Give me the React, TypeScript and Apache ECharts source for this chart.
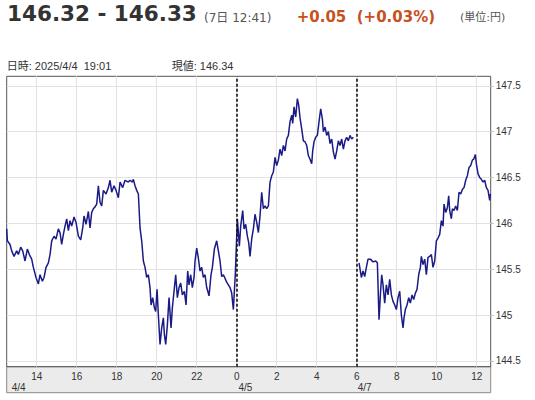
import { useEffect, useRef } from 'react';
import * as echarts from 'echarts';

// USD/JPY intraday, 4/4 12:30 -> 4/7 12:41 (weekend gap removed from the axis)
const times0404 = [
  '12:30', '12:32', '12:40', '12:45', '12:52', '13:00', '13:05', '13:12', '13:18', '13:25',
  '13:32', '13:38', '13:45', '13:50', '13:58', '14:05', '14:10', '14:17', '14:22', '14:28',
  '14:35', '14:40', '14:45', '14:52', '14:58', '15:05', '15:10', '15:15', '15:20', '15:25',
  '15:30', '15:35', '15:40', '15:45', '15:52', '15:58', '16:05', '16:12', '16:18', '16:22',
  '16:28', '16:35', '16:40', '16:45', '16:50', '16:55', '17:00', '17:05', '17:10', '17:15',
  '17:20', '17:28', '17:35', '17:40', '17:45', '17:52', '17:58', '18:05', '18:10', '18:18',
  '18:25', '18:35', '18:40', '18:47', '18:50', '18:55', '19:00', '19:05', '19:10', '19:15',
  '19:20', '19:25', '19:30', '19:35', '19:40', '19:43', '19:48', '19:53', '19:57', '20:01',
  '20:05', '20:10', '20:15', '20:20', '20:23', '20:27', '20:32', '20:37', '20:43', '20:47',
  '20:52', '20:57', '21:02', '21:07', '21:12', '21:17', '21:23', '21:28', '21:33', '21:37',
  '21:42', '21:47', '21:52', '21:55', '22:00', '22:05', '22:10', '22:15', '22:20', '22:25',
  '22:30', '22:37', '22:43', '22:47', '22:53', '23:00', '23:05', '23:10', '23:15', '23:20',
  '23:25', '23:30', '23:35', '23:40', '23:45', '23:50', '23:56',
];
const prices0404 = [
  145.94, 145.81, 145.77, 145.70, 145.64, 145.70, 145.66, 145.74, 145.70, 145.59,
  145.72, 145.66, 145.61, 145.52, 145.41, 145.34, 145.44, 145.37, 145.41, 145.52,
  145.57, 145.66, 145.81, 145.86, 145.83, 145.94, 145.90, 145.77, 145.88, 145.97,
  146.05, 145.92, 146.03, 145.97, 146.07, 146.01, 145.86, 145.82, 145.95, 146.08,
  145.99, 146.13, 145.95, 146.12, 146.16, 146.18, 146.21, 146.41, 146.23, 146.19,
  146.36, 146.32, 146.39, 146.47, 146.34, 146.41, 146.36, 146.28, 146.45, 146.39,
  146.47, 146.45, 146.47, 146.45, 146.48, 146.41, 146.36, 146.32, 145.95, 145.81,
  145.59, 145.52, 145.41, 145.44, 145.30, 145.11, 145.19, 145.08, 145.04, 145.28,
  145.00, 144.68, 144.86, 144.97, 144.79, 144.68, 144.89, 145.19, 144.86, 145.08,
  145.26, 145.44, 145.19, 145.30, 145.35, 145.22, 145.26, 145.11, 145.48, 145.33,
  145.44, 145.30, 145.41, 145.59, 145.73, 145.62, 145.48, 145.52, 145.41, 145.44,
  145.30, 145.21, 145.44, 145.52, 145.72, 145.81, 145.70, 145.59, 145.42, 145.44,
  145.40, 145.36, 145.33, 145.30, 145.24, 145.06, 145.46,
];

const times0405 = [
  '0:02', '0:08', '0:12', '0:18', '0:22', '0:27', '0:32', '0:36', '0:40', '0:45',
  '0:50', '0:55', '1:00', '1:05', '1:10', '1:15', '1:20', '1:25', '1:30', '1:35',
  '1:40', '1:45', '1:50', '1:55', '2:00', '2:05', '2:10', '2:15', '2:20', '2:25',
  '2:30', '2:35', '2:40', '2:45', '2:48', '2:52', '2:57', '3:02', '3:06', '3:10',
  '3:15', '3:20', '3:25', '3:30', '3:35', '3:40', '3:45', '3:48', '3:52', '3:57',
  '4:02', '4:07', '4:12', '4:17', '4:20', '4:25', '4:30', '4:35', '4:40', '4:45',
  '4:50', '4:55', '5:00', '5:05', '5:10', '5:15', '5:20', '5:25', '5:30', '5:35',
  '5:40', '5:45', '5:50',
];
const prices0405 = [
  146.05, 145.75, 145.97, 146.14, 145.94, 145.99, 145.86, 145.79, 145.64, 145.83,
  145.94, 146.10, 146.01, 145.90, 146.08, 146.34, 146.16, 146.19, 146.16, 146.19,
  146.45, 146.52, 146.56, 146.72, 146.63, 146.69, 146.81, 146.74, 146.85, 146.79,
  146.92, 146.96, 147.11, 147.18, 147.09, 147.27, 147.16, 147.36, 147.29, 147.15,
  147.03, 146.90, 146.89, 146.85, 146.74, 146.70, 146.65, 146.79, 146.89, 146.94,
  146.96, 147.11, 147.25, 147.14, 147.00, 147.05, 146.96, 147.00, 146.87, 146.92,
  146.78, 146.70, 146.79, 146.90, 146.85, 146.92, 146.81, 146.90, 146.94, 146.90,
  146.96, 146.92, 146.94,
];

const times0407 = [
  '6:07', '6:14', '6:19', '6:24', '6:29', '6:34', '6:41', '6:49', '6:57', '7:02',
  '7:07', '7:11', '7:15', '7:19', '7:24', '7:29', '7:34', '7:39', '7:44', '7:49',
  '7:54', '7:59', '8:04', '8:09', '8:14', '8:19', '8:22', '8:26', '8:31', '8:36',
  '8:41', '8:46', '8:51', '8:56', '9:01', '9:06', '9:11', '9:14', '9:19', '9:24',
  '9:29', '9:34', '9:39', '9:44', '9:49', '9:54', '9:59', '10:04', '10:09', '10:14',
  '10:19', '10:22', '10:27', '10:32', '10:36', '10:39', '10:44', '10:47', '10:52', '10:57',
  '11:02', '11:07', '11:12', '11:17', '11:22', '11:27', '11:32', '11:37', '11:42', '11:47',
  '11:51', '11:56', '11:59', '12:04', '12:09', '12:14', '12:19', '12:24', '12:29', '12:34',
  '12:39', '12:41',
];
const prices0407 = [
  145.57, 145.41, 145.48, 145.42, 145.52, 145.61, 145.61, 145.58, 145.59, 145.57,
  144.95, 145.22, 145.44, 145.33, 145.13, 145.33, 145.22, 145.39, 145.22, 145.15,
  145.11, 145.06, 145.19, 145.26, 145.00, 144.86, 144.97, 145.06, 145.11, 145.19,
  145.13, 145.22, 145.17, 145.24, 145.28, 145.44, 145.52, 145.64, 145.55, 145.61,
  145.44, 145.63, 145.64, 145.66, 145.52, 145.59, 145.81, 145.84, 145.88, 146.03,
  145.97, 146.21, 146.12, 146.17, 146.30, 146.14, 146.05, 146.16, 146.14, 146.19,
  146.14, 146.34, 146.32, 146.37, 146.39, 146.47, 146.52, 146.61, 146.63, 146.69,
  146.70, 146.75, 146.65, 146.54, 146.50, 146.48, 146.45, 146.47, 146.39, 146.36,
  146.25, 146.32,
];

const hourTicks = [14, 16, 18, 20, 22, 24, 26, 28, 30, 32, 34, 36];
const dateTicks = [12.75, 24.09, 30.05];
const priceTicks = [144.5, 145, 145.5, 146, 146.5, 147, 147.5];
const sessionBreaks = [24, 30];

const FONT = "'Liberation Sans', 'Noto Sans CJK JP', sans-serif";
const HEAD = "'DejaVu Sans', 'Noto Sans CJK JP', sans-serif";

// hours on the compressed axis: 4/4 -> h, 4/5 and 4/7 -> 24 + h (4/5 6:00 == 4/7 6:00)
function toHour(day: string, t: string) {
  const [h, m] = t.split(':').map(Number);
  const v = h + m / 60;
  return day === '4/4' ? v : 24 + v;
}

function seg(day: string, times: string[], prices: number[]) {
  return times.map((t, i) => [toHour(day, t), prices[i]]);
}

export default function App() {
  const ref = useRef<HTMLDivElement>(null);

  useEffect(() => {
    if (!ref.current) return;
    const chart = echarts.init(ref.current, null, { renderer: 'svg' });

    const data: any[] = [
      ...seg('4/4', times0404, prices0404),
      ...seg('4/5', times0405, prices0405),
      [30, '-'],
      ...seg('4/7', times0407, prices0407),
    ];

    chart.setOption({
      animation: false,
      backgroundColor: '#fff',
      grid: {
        left: 6.7, right: 44.3, top: 76.3, bottom: 33.3,
        show: true, borderColor: '#555', borderWidth: 1,
        containLabel: false, outerBoundsMode: 'none',
      },
      graphic: [
        {
          type: 'rect', z: -10, silent: true,
          shape: { x: 6.7, y: 366.7, width: 484, height: 26 },
          style: { fill: '#ebebeb', stroke: '#8a8a8a', lineWidth: 1 },
        },
        {
          type: 'text', x: 7, y: 13.6,
          style: { text: '146.32 - 146.33', fill: '#333', fontFamily: HEAD, fontWeight: 'bold', fontSize: 21.5, verticalAlign: 'middle' },
        },
        {
          type: 'text', x: 204, y: 18.3,
          style: { text: '(7日 12:41)', fill: '#555', fontFamily: HEAD, fontSize: 12, verticalAlign: 'middle' },
        },
        {
          type: 'text', x: 296.7, y: 17.2,
          style: { text: '+0.05  (+0.03%)', fill: '#c8501e', fontFamily: HEAD, fontWeight: 'bold', fontSize: 15, verticalAlign: 'middle' },
        },
        {
          type: 'text', x: 460, y: 17.8,
          style: { text: '(単位:円)', fill: '#555', fontFamily: HEAD, fontSize: 11, verticalAlign: 'middle' },
        },
        {
          type: 'text', x: 6.7, y: 65.7,
          style: { text: '日時: 2025/4/4  19:01', fill: '#333', fontFamily: FONT, fontSize: 11, verticalAlign: 'middle' },
        },
        {
          type: 'text', x: 171.7, y: 65.7,
          style: { text: '現値: 146.34', fill: '#333', fontFamily: FONT, fontSize: 11, verticalAlign: 'middle' },
        },
      ],
      xAxis: [
        {
          type: 'value', min: 12.5, max: 36.7,
          axisLine: { show: false },
          axisTick: { show: false, customValues: hourTicks },
          splitLine: { show: true, lineStyle: { color: '#e2e2e2', width: 1 } },
          axisLabel: {
            customValues: hourTicks,
            formatter: (v: number) => String(v % 24),
            color: '#333', fontFamily: FONT, fontSize: 10, margin: 5,
          },
        },
        {
          type: 'value', min: 12.5, max: 36.7, position: 'bottom', offset: 0,
          axisLine: { show: false },
          axisTick: { show: false, customValues: dateTicks },
          splitLine: { show: false },
          axisLabel: {
            customValues: dateTicks,
            formatter: (v: number) => (v < 24 ? '4/4' : v < 30 ? '4/5' : '4/7'),
            align: 'left', color: '#333', fontFamily: FONT, fontSize: 10, margin: 16,
          },
        },
      ],
      yAxis: {
        type: 'value', position: 'right', min: 144.437, max: 147.604,
        axisLine: { show: false },
        axisTick: { show: true, length: 3, inside: false, customValues: priceTicks, lineStyle: { color: '#bbb' } },
        splitLine: { show: true, lineStyle: { color: '#e2e2e2', width: 1 } },
        axisLabel: {
          customValues: priceTicks,
          formatter: (v: number) => String(v),
          color: '#333', fontFamily: FONT, fontSize: 10, margin: 5, padding: [6, 0, 0, 0],
        },
      },
      series: [
        {
          type: 'line', xAxisIndex: 0, data, showSymbol: false, connectNulls: false,
          lineStyle: { color: '#1b1b87', width: 1.5 },
          markLine: {
            silent: true, symbol: 'none', label: { show: false },
            lineStyle: { color: '#111', type: [3, 2], width: 1.6 },
            data: sessionBreaks.map((x) => ({ xAxis: x })),
          },
        },
      ],
    });

    return () => chart.dispose();
  }, []);

  return <div ref={ref} style={{ position: 'absolute', left: 0, top: 0, width: 535, height: 400 }} />;
}
